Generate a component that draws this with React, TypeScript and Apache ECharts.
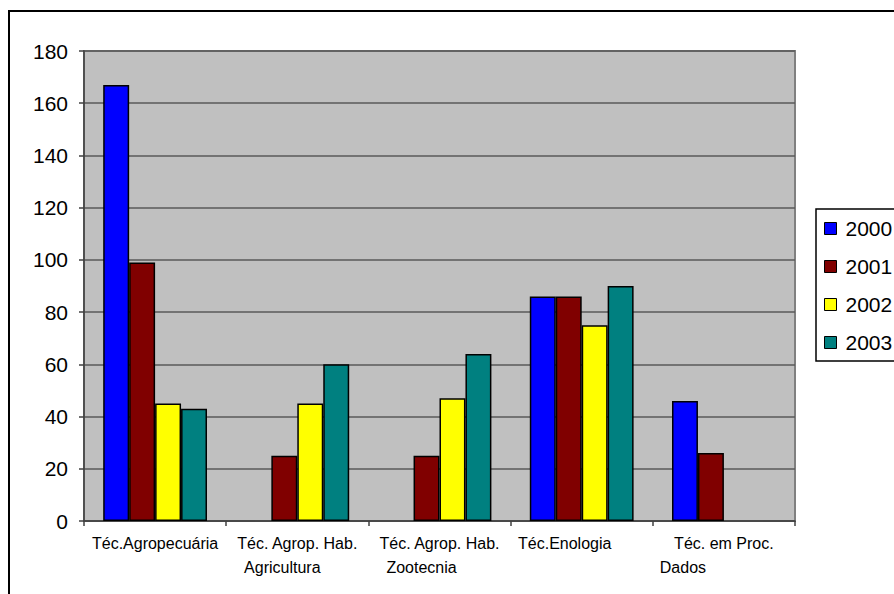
import React, { useEffect, useRef } from "react";
import * as echarts from "echarts";

const categories = [
  "Téc.Agropecuária",
  "Téc. Agrop. Hab.\nAgricultura",
  "Téc. Agrop. Hab.\nZootecnia",
  "Téc.Enologia",
  "Téc. em Proc.\nDados",
];
const seriesNames = ["2000", "2001", "2002", "2003"];
const values2000 = [167, null, null, 86, 46];
const values2001 = [99, 25, 25, 86, 26];
const values2002 = [45, 45, 47, 75, null];
const values2003 = [43, 60, 64, 90, null];
const yMin = 0;
const yMax = 180;
const yStep = 20;

// per-line right padding used to nudge label lines (styling only)
const lineShift: number[][] = [[0], [0, 30], [0, 36], [34], [0, 82]];

const colors = ["#0000FF", "#800000", "#FFFF00", "#008080"];
const FONT = "'Liberation Sans', Arial, sans-serif";

export default function App() {
  const ref = useRef<HTMLDivElement>(null);
  useEffect(() => {
    if (!ref.current) return;
    const chart = echarts.init(ref.current, undefined, { renderer: "svg" });
    const rich: Record<string, any> = {};
    lineShift.flat().forEach((n) => {
      if (n > 0)
        rich["s" + n] = {
          padding: [0, n, 0, 0],
          fontSize: 16,
          fontFamily: FONT,
          color: "#000",
          lineHeight: 24,
        };
    });
    const data = [values2000, values2001, values2002, values2003];
    chart.setOption({
      animation: false,
      backgroundColor: "#ffffff",
      grid: {
        left: 84,
        right: 99,
        top: 51,
        bottom: 73,
        show: true,
        backgroundColor: "#C0C0C0",
        borderColor: "#808080",
        borderWidth: 2,
      },
      graphic: [
        {
          type: "rect",
          shape: { x: 9, y: 11, width: 2000, height: 2000 },
          style: { fill: "none", stroke: "#000", lineWidth: 2 },
          silent: true,
          z: 0,
        },
        {
          type: "rect",
          shape: { x: 816, y: 209, width: 300, height: 152 },
          style: { fill: "#fff", stroke: "#000", lineWidth: 1.5 },
          silent: true,
          z: -1,
        },
      ],
      legend: {
        data: seriesNames,
        orient: "vertical",
        left: 816,
        top: 209,
        padding: [9, 0, 8, 8],
        itemGap: 17,
        itemWidth: 12,
        itemHeight: 12,
        icon: "rect",
        itemStyle: { borderColor: "#000", borderWidth: 1 },
        textStyle: {
          fontSize: 21,
          lineHeight: 21,
          fontFamily: FONT,
          color: "#000",
          padding: [0, 0, 0, 4],
        },
      },
      xAxis: {
        type: "category",
        data: categories,
        boundaryGap: true,
        axisLine: { show: true, lineStyle: { color: "#404040", width: 1.5 } },
        axisTick: { show: true, length: 5, lineStyle: { color: "#404040", width: 1.5 } },
        splitLine: { show: false },
        axisLabel: {
          interval: 0,
          margin: 10,
          fontSize: 16,
          lineHeight: 24,
          fontFamily: FONT,
          color: "#000",
          rich,
          formatter: (value: string, index: number) => {
            const lines = value.split("\n");
            const shifts = lineShift[index] || [];
            return lines
              .map((l, i) => (shifts[i] ? `{s${shifts[i]}|${l}}` : l))
              .join("\n");
          },
        },
      },
      yAxis: {
        type: "value",
        min: yMin,
        max: yMax,
        interval: yStep,
        axisLine: { show: true, lineStyle: { color: "#404040", width: 1.5 } },
        axisTick: { show: true, length: 5, lineStyle: { color: "#404040", width: 1.5 } },
        splitLine: { show: true, lineStyle: { color: "#5a5a5a", width: 1.5 } },
        axisLabel: {
          margin: 16,
          fontSize: 21,
          fontFamily: FONT,
          color: "#000",
        },
      },
      series: seriesNames.map((name, i) => ({
        name,
        type: "bar",
        data: data[i],
        barGap: "0%",
        barCategoryGap: "27%",
        itemStyle: { color: colors[i], borderColor: "#000", borderWidth: 1.5 },
      })),
    });
    return () => chart.dispose();
  }, []);
  return (
    <div
      ref={ref}
      style={{ position: "absolute", left: 0, top: 0, width: 894, height: 594, background: "#fff" }}
    />
  );
}
